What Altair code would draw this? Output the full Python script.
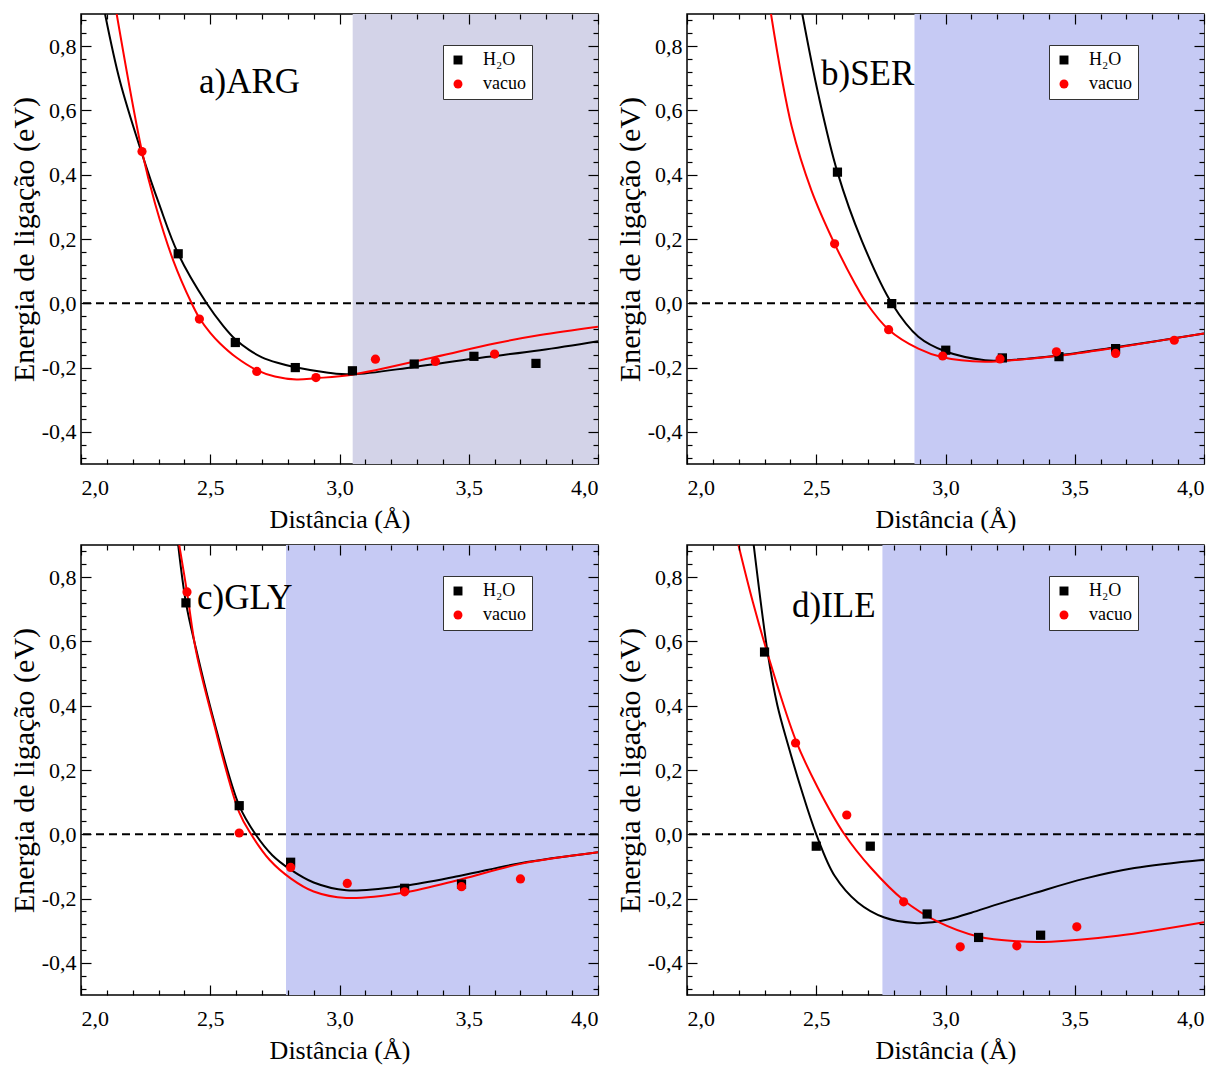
import altair as alt
import pandas as pd

FONT = "Liberation Serif"
SERIES = ["H₂O", "vacuo"]

# ---------------- a) ARG ----------------
a_h2o_x = [2.376, 2.597, 2.829, 3.050, 3.289, 3.520, 3.760]
a_h2o_y = [0.154, -0.122, -0.200, -0.210, -0.189, -0.165, -0.187]
a_vac_x = [2.236, 2.458, 2.680, 2.909, 3.139, 3.371, 3.600]
a_vac_y = [0.472, -0.049, -0.212, -0.231, -0.174, -0.181, -0.158]
a_fit_h2o_x = [2.093, 2.151, 2.236, 2.302, 2.376, 2.486, 2.550, 2.597, 2.650, 2.700, 2.760, 2.829, 2.950, 3.050, 3.290, 3.520, 3.776, 4.000]
a_fit_h2o_y = [0.900, 0.690, 0.465, 0.309, 0.154, 0.000, -0.070, -0.112, -0.145, -0.168, -0.185, -0.199, -0.215, -0.221, -0.198, -0.172, -0.146, -0.118]
a_fit_vac_x = [2.138, 2.236, 2.287, 2.357, 2.428, 2.458, 2.500, 2.538, 2.600, 2.680, 2.750, 2.834, 2.909, 3.050, 3.369, 3.600, 3.776, 4.000]
a_fit_vac_y = [0.900, 0.472, 0.309, 0.133, 0.000, -0.046, -0.092, -0.125, -0.168, -0.208, -0.228, -0.237, -0.233, -0.222, -0.167, -0.125, -0.099, -0.073]

# ---------------- b) SER ----------------
b_h2o_x = [2.582, 2.792, 3.001, 3.220, 3.439, 3.658]
b_h2o_y = [0.408, -0.001, -0.146, -0.170, -0.166, -0.141]
b_vac_x = [2.571, 2.780, 2.989, 3.211, 3.429, 3.658, 3.885]
b_vac_y = [0.185, -0.082, -0.164, -0.173, -0.151, -0.156, -0.115]
b_fit_h2o_x = [2.446, 2.508, 2.582, 2.676, 2.792, 2.895, 3.001, 3.153, 3.211, 3.429, 3.658, 4.000]
b_fit_h2o_y = [0.900, 0.650, 0.408, 0.195, 0.000, -0.104, -0.150, -0.177, -0.178, -0.163, -0.137, -0.094]
b_fit_vac_x = [2.325, 2.405, 2.482, 2.571, 2.650, 2.695, 2.780, 2.895, 2.989, 3.153, 3.211, 3.429, 3.658, 4.000]
b_fit_vac_y = [0.900, 0.550, 0.350, 0.185, 0.061, 0.000, -0.082, -0.141, -0.168, -0.182, -0.180, -0.164, -0.138, -0.094]

# ---------------- c) GLY ----------------
c_h2o_x = [2.406, 2.612, 2.811, 3.252, 3.472]
c_h2o_y = [0.720, 0.089, -0.087, -0.168, -0.155]
c_vac_x = [2.410, 2.612, 2.811, 3.030, 3.252, 3.472, 3.700]
c_vac_y = [0.754, 0.004, -0.103, -0.153, -0.179, -0.163, -0.139]
c_fit_h2o_x = [2.376, 2.406, 2.445, 2.509, 2.612, 2.675, 2.740, 2.811, 2.900, 3.026, 3.252, 3.472, 3.700, 4.000]
c_fit_h2o_y = [0.900, 0.720, 0.577, 0.369, 0.089, 0.000, -0.065, -0.110, -0.150, -0.174, -0.160, -0.128, -0.090, -0.056]
c_fit_vac_x = [2.380, 2.410, 2.445, 2.509, 2.612, 2.658, 2.730, 2.811, 2.900, 3.026, 3.252, 3.472, 3.700, 4.000]
c_fit_vac_y = [0.900, 0.754, 0.570, 0.360, 0.068, 0.000, -0.080, -0.137, -0.178, -0.198, -0.181, -0.140, -0.092, -0.056]

# ---------------- d) ILE ----------------
d_h2o_x = [2.300, 2.500, 2.709, 2.929, 3.128, 3.368]
d_h2o_y = [0.567, -0.037, -0.037, -0.248, -0.321, -0.314]
d_vac_x = [2.420, 2.618, 2.838, 3.057, 3.276, 3.508]
d_vac_y = [0.284, 0.060, -0.210, -0.350, -0.347, -0.288]
d_fit_h2o_x = [2.258, 2.313, 2.350, 2.390, 2.442, 2.500, 2.571, 2.661, 2.764, 2.880, 2.950, 3.020, 3.100, 3.200, 3.344, 3.538, 3.731, 4.000]
d_fit_h2o_y = [0.900, 0.560, 0.400, 0.281, 0.140, 0.000, -0.129, -0.212, -0.259, -0.276, -0.274, -0.263, -0.244, -0.218, -0.183, -0.138, -0.105, -0.079]
d_fit_vac_x = [2.199, 2.255, 2.323, 2.422, 2.506, 2.609, 2.712, 2.838, 2.970, 3.125, 3.280, 3.409, 3.667, 4.000]
d_fit_vac_y = [0.900, 0.722, 0.532, 0.290, 0.145, 0.000, -0.105, -0.205, -0.272, -0.318, -0.333, -0.334, -0.316, -0.274]

# panel labels, shaded-region starts and their fill colours
panel_labels = ["a)ARG", "b)SER", "c)GLY", "d)ILE"]
shade_starts = [3.051, 2.880, 2.793, 2.756]
shade_colors = ["#d3d3e8", "#c6caf4", "#c6caf4", "#c6caf4"]

X_DOMAIN = [2.0, 4.0]
Y_DOMAIN = [-0.5, 0.9]
X_TICKS = [round(2.0 + 0.1 * i, 1) for i in range(21)]
Y_TICKS = [round(-0.48 + 0.04 * i, 2) for i in range(35)]

X_TEST = "abs(datum.value*2 - round(datum.value*2)) < 0.001"
Y_TEST = "abs(datum.value*5 - round(datum.value*5)) < 0.001"
FMT = "replace(replace(format(datum.value, '.1f'), '.', ','), '\u2212', '-')"

W, H = 517, 450


def tick_size(test):
    return {"condition": {"test": test, "value": -10}, "value": -5}


def x_axis(main=True):
    if main:
        return alt.Axis(values=X_TICKS, labelExpr=f"{X_TEST} ? {FMT} : ''",
                        tickSize=tick_size(X_TEST), labelPadding=23, domain=False,
                        grid=False, title="Distância (Å)", titlePadding=8,
                        orient="bottom", zindex=1)
    return alt.Axis(values=X_TICKS, labels=False, tickSize=tick_size(X_TEST),
                    domain=False, grid=False, title=None, orient="top", zindex=1)


def y_axis(main=True):
    if main:
        return alt.Axis(values=Y_TICKS, labelExpr=f"{Y_TEST} ? {FMT} : ''",
                        tickSize=tick_size(Y_TEST), labelPadding=15, domain=False,
                        grid=False, title="Energia de ligação (eV)", titlePadding=2,
                        titleFontSize=30, orient="left", zindex=1)
    return alt.Axis(values=Y_TICKS, labels=False, tickSize=tick_size(Y_TEST),
                    domain=False, grid=False, title=None, orient="right", zindex=1)


xs = alt.Scale(domain=X_DOMAIN, nice=False, zero=False)
ys = alt.Scale(domain=Y_DOMAIN, nice=False, zero=False)

LABEL_POS = {"a)ARG": (118, 79), "b)SER": (134, 71), "c)GLY": (116, 64), "d)ILE": (105, 72)}


def panel(label, shade_start, shade_color, hx, hy, vx, vy, fhx, fhy, fvx, fvy):
    shade_df = pd.DataFrame({"x0": [shade_start], "x1": [X_DOMAIN[1]],
                             "y0": [Y_DOMAIN[0]], "y1": [Y_DOMAIN[1]]})
    shade = alt.Chart(shade_df).mark_rect(color=shade_color).encode(
        x=alt.X("x0:Q", scale=xs, axis=x_axis(False)), x2="x1:Q",
        y=alt.Y("y0:Q", scale=ys, axis=y_axis(False)), y2="y1:Q")

    zero = alt.Chart(pd.DataFrame({"z": [0.0]})).mark_rule(
        color="black", strokeDash=[8, 5], strokeWidth=2).encode(
        y=alt.Y("z:Q", scale=ys, axis=None))

    fit_h = alt.Chart(pd.DataFrame({"x": fhx, "y": fhy})).mark_line(
        color="black", strokeWidth=2, interpolate="catmull-rom", clip=True).encode(
        x=alt.X("x:Q", scale=xs, axis=None), y=alt.Y("y:Q", scale=ys, axis=None))
    fit_v = alt.Chart(pd.DataFrame({"x": fvx, "y": fvy})).mark_line(
        color="red", strokeWidth=2, interpolate="catmull-rom", clip=True).encode(
        x=alt.X("x:Q", scale=xs, axis=None), y=alt.Y("y:Q", scale=ys, axis=None))

    pts_df = pd.DataFrame({
        "x": hx + vx, "y": hy + vy,
        "serie": [SERIES[0]] * len(hx) + [SERIES[1]] * len(vx)})
    leg = alt.Legend(orient="none", legendX=362, legendY=31, title=None,
                     fillColor="white", strokeColor="#333333", padding=6,
                     labelFont=FONT, labelFontSize=18, labelOffset=16,
                     rowPadding=6, symbolSize=80, symbolStrokeWidth=0, zindex=2)
    pts = alt.Chart(pts_df).mark_point(filled=True, size=85, opacity=1).encode(
        x=alt.X("x:Q", scale=xs, axis=x_axis(True)),
        y=alt.Y("y:Q", scale=ys, axis=y_axis(True)),
        color=alt.Color("serie:N", scale=alt.Scale(domain=SERIES, range=["black", "red"]), legend=leg),
        shape=alt.Shape("serie:N", scale=alt.Scale(domain=SERIES, range=["square", "circle"]), legend=leg))

    txt = alt.Chart(pd.DataFrame({"t": [label]})).mark_text(
        align="left", baseline="alphabetic", font=FONT, fontSize=35, color="black").encode(
        x=alt.value(LABEL_POS[label][0]), y=alt.value(LABEL_POS[label][1]), text="t:N")

    return alt.layer(shade, zero, fit_h, fit_v, pts, txt).resolve_axis(
        x="independent", y="independent").properties(width=W, height=H)


pa = panel(panel_labels[0], shade_starts[0], shade_colors[0], a_h2o_x, a_h2o_y, a_vac_x, a_vac_y,
           a_fit_h2o_x, a_fit_h2o_y, a_fit_vac_x, a_fit_vac_y)
pb = panel(panel_labels[1], shade_starts[1], shade_colors[1], b_h2o_x, b_h2o_y, b_vac_x, b_vac_y,
           b_fit_h2o_x, b_fit_h2o_y, b_fit_vac_x, b_fit_vac_y)
pc = panel(panel_labels[2], shade_starts[2], shade_colors[2], c_h2o_x, c_h2o_y, c_vac_x, c_vac_y,
           c_fit_h2o_x, c_fit_h2o_y, c_fit_vac_x, c_fit_vac_y)
pd_ = panel(panel_labels[3], shade_starts[3], shade_colors[3], d_h2o_x, d_h2o_y, d_vac_x, d_vac_y,
            d_fit_h2o_x, d_fit_h2o_y, d_fit_vac_x, d_fit_vac_y)

chart = alt.concat(pa, pb, pc, pd_, columns=2, spacing={"row": 81, "column": 89},
                   bounds="flush").resolve_scale(
    color="independent", shape="independent").resolve_legend(
    color="independent", shape="independent").configure_view(
    stroke="black", strokeWidth=1.5).configure_axis(
    labelFont=FONT, labelFontSize=22, labelColor="black", titleFont=FONT,
    titleFontSize=26, titleFontWeight="normal", titleColor="black",
    tickColor="black", tickWidth=1.2).properties(
    padding={"left": 0, "top": 4, "right": 5, "bottom": 5}, background="white")

chart.save("out.html", embed_options={"renderer": "svg", "actions": False})
